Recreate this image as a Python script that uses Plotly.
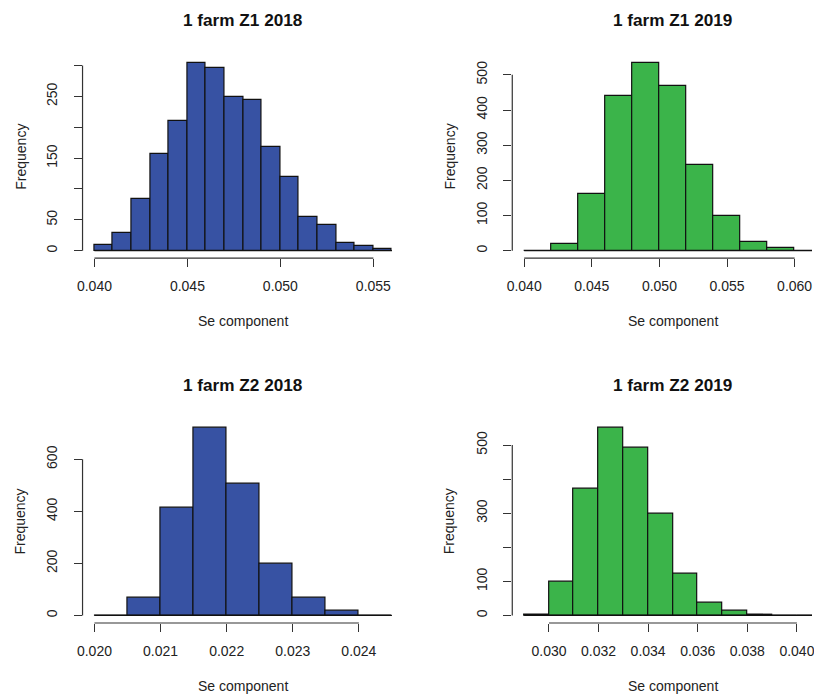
import plotly.graph_objects as go

# ---------------- data ----------------
titles = ["1 farm Z1 2018", "1 farm Z1 2019", "1 farm Z2 2018", "1 farm Z2 2019"]
x_label = "Se component"
y_label = "Frequency"

z1_2018_breaks = [0.040, 0.041, 0.042, 0.043, 0.044, 0.045, 0.046, 0.047, 0.048,
                  0.049, 0.050, 0.051, 0.052, 0.053, 0.054, 0.055, 0.056]
z1_2018_counts = [9, 28, 83, 156, 210, 305, 296, 249, 244, 168, 119, 54, 41, 12, 7, 3]

z1_2019_breaks = [0.040, 0.042, 0.044, 0.046, 0.048, 0.050, 0.052, 0.054, 0.056,
                  0.058, 0.060, 0.062]
z1_2019_counts = [0, 20, 160, 440, 535, 469, 244, 98, 26, 7, 0]

z2_2018_breaks = [0.0200, 0.0205, 0.0210, 0.0215, 0.0220, 0.0225, 0.0230, 0.0235,
                  0.0240, 0.0245]
z2_2018_counts = [0, 67, 414, 723, 507, 198, 67, 18, 0]

z2_2019_breaks = [0.029, 0.030, 0.031, 0.032, 0.033, 0.034, 0.035, 0.036, 0.037,
                  0.038, 0.039, 0.040, 0.041]
z2_2019_counts = [3, 100, 371, 552, 493, 297, 123, 37, 14, 3, 0, 0]

z1_2018_xticks = [0.040, 0.045, 0.050, 0.055]
z1_2019_xticks = [0.040, 0.045, 0.050, 0.055, 0.060]
z2_2018_xticks = [0.020, 0.021, 0.022, 0.023, 0.024]
z2_2019_xticks = [0.030, 0.032, 0.034, 0.036, 0.038, 0.040]
xtick_text = [["0.040", "0.045", "0.050", "0.055"],
              ["0.040", "0.045", "0.050", "0.055", "0.060"],
              ["0.020", "0.021", "0.022", "0.023", "0.024"],
              ["0.030", "0.032", "0.034", "0.036", "0.038", "0.040"]]

z1_2018_yticks = [0, 50, 100, 150, 200, 250, 300]
z1_2019_yticks = [0, 100, 200, 300, 400, 500]
z2_2018_yticks = [0, 200, 400, 600]
z2_2019_yticks = [0, 100, 200, 300, 400, 500]
ytick_text = [["0", "50", "", "150", "", "250", ""],
              ["0", "100", "200", "300", "400", "500"],
              ["0", "200", "400", "600"],
              ["0", "100", "", "300", "", "500"]]

BLUE = "#3752A3"
GREEN = "#3BB44A"
colors = [BLUE, GREEN, BLUE, GREEN]

panels = [
    (z1_2018_breaks, z1_2018_counts, z1_2018_xticks, z1_2018_yticks),
    (z1_2019_breaks, z1_2019_counts, z1_2019_xticks, z1_2019_yticks),
    (z2_2018_breaks, z2_2018_counts, z2_2018_xticks, z2_2018_yticks),
    (z2_2019_breaks, z2_2019_counts, z2_2019_xticks, z2_2019_yticks),
]

# ---------------- geometry (pixels) ----------------
W, H = 814, 696
col_left = [77.3, 511.3]
PW = 324.5
row_top = [55.0, 419.8]
PH = 203.2

FONT = "Liberation Sans, Arial, sans-serif"
TXT = "#222222"
AX = "#333333"

fig = go.Figure()
shapes = []
annotations = []
layout_axes = {}

for i, (breaks, counts, xt, yt) in enumerate(panels):
    n = i + 1
    xa = "x" if n == 1 else f"x{n}"
    ya = "y" if n == 1 else f"y{n}"
    L = col_left[i % 2]
    T = row_top[i // 2]

    span = breaks[-1] - breaks[0]
    xlo = breaks[0] - 0.04 * span
    xhi = breaks[-1] + 0.04 * span
    xmid = (xlo + xhi) / 2
    Rpx = L + PW
    if Rpx > W:
        xhi_vis = xlo + (W - L) / PW * (xhi - xlo)
        dom_r = 1.0
    else:
        xhi_vis = xhi
        dom_r = Rpx / W
    ymax = max(counts)
    ylo, yhi = -0.04 * ymax, 1.04 * ymax

    centers = [(a + b) / 2 for a, b in zip(breaks[:-1], breaks[1:])]
    widths = [b - a for a, b in zip(breaks[:-1], breaks[1:])]
    fig.add_trace(go.Bar(
        x=centers, y=counts, width=widths, xaxis=xa, yaxis=ya,
        marker=dict(color=colors[i], line=dict(color="#111111", width=1.2)),
        showlegend=False, hoverinfo="x+y",
    ))

    axis_common = dict(showgrid=False, zeroline=False, showline=False,
                       ticks="outside", ticklen=8, tickwidth=1.2, tickcolor=AX,
                       tickfont=dict(family=FONT, size=14, color=TXT),
                       fixedrange=True)
    layout_axes["xaxis" if n == 1 else f"xaxis{n}"] = dict(
        axis_common, domain=[L / W, dom_r], range=[xlo, xhi_vis], anchor=ya,
        tickvals=xt, ticktext=xtick_text[i], ticklabelstandoff=7,
        ticklabeloverflow="allow")
    layout_axes["yaxis" if n == 1 else f"yaxis{n}"] = dict(
        axis_common, domain=[1 - (T + PH) / H, 1 - T / H], range=[ylo, yhi],
        anchor=xa, tickvals=yt, ticktext=ytick_text[i], tickangle=-90,
        ticklabelstandoff=11)

    # axis lines spanning the tick range (R style)
    shapes.append(dict(type="line", xref=f"{xa} domain", yref=ya, x0=0, x1=0,
                       y0=yt[0], y1=yt[-1], line=dict(color=AX, width=1.2)))
    shapes.append(dict(type="line", xref=xa, yref=f"{ya} domain", x0=xt[0], x1=xt[-1],
                       y0=0, y1=0, line=dict(color=AX, width=1.2)))
    # baseline of zero-height bins
    shapes.append(dict(type="line", xref=xa, yref=ya, x0=breaks[0], x1=breaks[-1],
                       y0=0, y1=0, line=dict(color="#111111", width=1.2)))

    # titles
    annotations.append(dict(text=f"<b>{titles[i]}</b>", xref=xa, yref="paper",
                            x=xmid, y=1 - (T - 35) / H, showarrow=False,
                            xanchor="center", yanchor="middle",
                            font=dict(family=FONT, size=17.2, color="#111111")))
    annotations.append(dict(text=x_label, xref=xa, yref="paper",
                            x=xmid, y=1 - (T + PH + 63) / H, showarrow=False,
                            xanchor="center", yanchor="middle",
                            font=dict(family=FONT, size=14, color=TXT)))
    annotations.append(dict(text=y_label, xref="paper", yref=ya,
                            x=(L - 63) / W, y=(ylo + yhi) / 2, showarrow=False,
                            textangle=-90, xanchor="center", yanchor="middle",
                            font=dict(family=FONT, size=14, color=TXT)))

fig.update_layout(
    width=W, height=H, margin=dict(l=0, r=0, t=0, b=0),
    paper_bgcolor="white", plot_bgcolor="white",
    bargap=0, shapes=shapes, annotations=annotations,
    **layout_axes,
)

fig.write_html("out.html")
